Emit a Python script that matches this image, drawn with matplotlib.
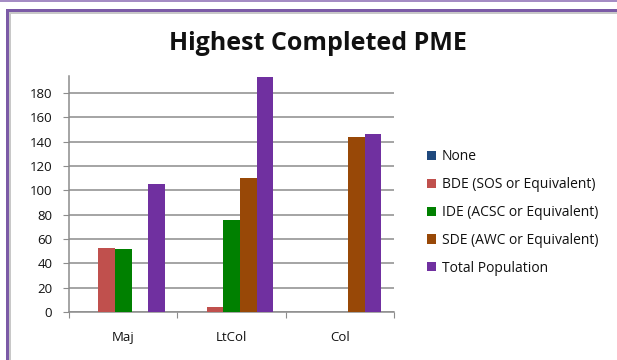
import matplotlib
matplotlib.use("Agg")
import matplotlib.pyplot as plt
import numpy as np
from matplotlib.patches import Rectangle

categories = ["Maj", "LtCol", "Col"]
series_names = [
    "None",
    "BDE (SOS or Equivalent)",
    "IDE (ACSC or Equivalent)",
    "SDE (AWC or Equivalent)",
    "Total Population",
]
none_vals = [0, 0, 0]
bde_vals = [53, 4, 0]
ide_vals = [52, 76, 0]
sde_vals = [0, 110, 144]
total_vals = [105, 193, 146]
colors = ["#1F497D", "#C0504D", "#008000", "#984807", "#7030A0"]
y_ticks = [0, 20, 40, 60, 80, 100, 120, 140, 160, 180]

W, H = 617, 360
fig = plt.figure(figsize=(W / 100, H / 100), dpi=100)
fig.patch.set_facecolor("white")

FONT = ["Open Sans", "DejaVu Sans"]
plt.rcParams["font.family"] = FONT

# plot area in pixel terms
x0, x1 = 69, 394
y_bot, y_top = 312, 76
ax = fig.add_axes([x0 / W, 1 - y_bot / H, (x1 - x0) / W, (y_bot - y_top) / H])

all_vals = [none_vals, bde_vals, ide_vals, sde_vals, total_vals]
n = len(all_vals)
gap = 1.5
bw = 1.0 / (n + gap)
x = np.arange(len(categories))
handles = []
for i, (vals, c, name) in enumerate(zip(all_vals, colors, series_names)):
    offs = (i - (n - 1) / 2) * bw
    b = ax.bar(x + offs, vals, width=bw, color=c, label=name, zorder=3,
               linewidth=0)
    handles.append(b)

ax.set_xlim(-0.5, len(categories) - 0.5)
ax.set_ylim(0, 194)
ax.set_yticks(y_ticks)
ax.set_yticklabels([str(v) for v in y_ticks], fontsize=9.5, color="#111111",
                   fontweight="medium")
ax.yaxis.grid(True, color="#8c8c8c", linewidth=1.1, zorder=0)
ax.set_axisbelow(True)

# category ticks sit at group boundaries, labels at centres
ax.set_xticks(np.arange(len(categories) + 1) - 0.5)
ax.set_xticklabels([])
ax.set_xticks(x, minor=True)
ax.set_xticklabels(categories, minor=True, fontsize=9.5, color="#111111",
                   fontweight="medium")
ax.tick_params(axis="x", which="minor", length=0, pad=14)
ax.tick_params(axis="x", which="major", length=4, color="#8c8c8c",
               direction="out")
ax.tick_params(axis="y", length=4, color="#8c8c8c", pad=8)

for s in ["top", "right"]:
    ax.spines[s].set_visible(False)
for s in ["left", "bottom"]:
    ax.spines[s].set_color("#8c8c8c")
    ax.spines[s].set_linewidth(1.1)

fig.text(318 / W, 1 - 44 / H, "Highest Completed PME", ha="center",
         va="center", fontsize=18, fontweight="bold", color="#111111")

fig.legend(handles=handles, labels=series_names, loc="upper left",
           bbox_to_anchor=(414 / W, 1 - 137 / H), frameon=False,
           prop={"size": 10, "weight": "medium"},
           handlelength=0.65, handleheight=0.65,
           handletextpad=0.45, labelspacing=0.92, labelcolor="#111111")

# chart frame
def px_rect(x, y, w, h, color):
    fig.add_artist(Rectangle((x / W, 1 - (y + h) / H), w / W, h / H,
                             transform=fig.transFigure, color=color,
                             linewidth=0, zorder=10))

px_rect(0, 0, W, 2, "#a58cc4")
px_rect(6, 9, W - 6, 2.5, "#7b5aa6")
px_rect(8, 11.5, W - 8, 2, "#c8c8c8")
px_rect(6, 9, 2.5, H - 9, "#7b5aa6")
px_rect(8.5, 11.5, 2, H - 11.5, "#c8c8c8")

fig.savefig("out.png", dpi=100, facecolor="white")
